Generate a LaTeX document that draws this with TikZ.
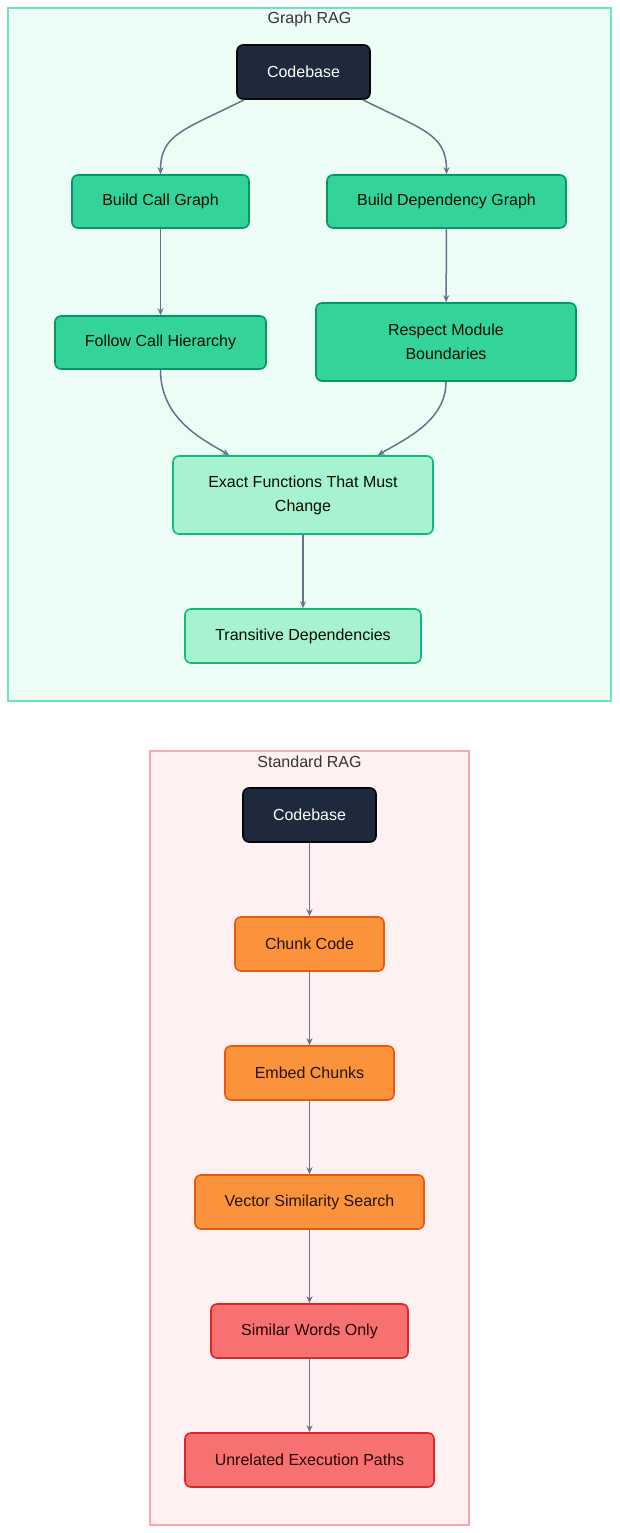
\documentclass[tikz,border=0pt]{standalone}
\usepackage{fontspec}
\setmainfont{Liberation Sans}
\usetikzlibrary{arrows.meta}
\definecolor{dk}{HTML}{1E293B}
\definecolor{gf}{HTML}{34D399}\definecolor{gb}{HTML}{059669}
\definecolor{lf}{HTML}{A7F3D0}\definecolor{lb}{HTML}{10B981}
\definecolor{of}{HTML}{FB923C}\definecolor{ob}{HTML}{EA580C}
\definecolor{rf}{HTML}{F87171}\definecolor{rb}{HTML}{DC2626}
\definecolor{g1}{HTML}{ECFDF5}\definecolor{g2}{HTML}{6EE7B7}
\definecolor{p1}{HTML}{FFF1F2}\definecolor{p2}{HTML}{FDA4AF}
\definecolor{ed}{HTML}{64748B}
\tikzset{
 box/.style={rounded corners=6pt,line width=1.6pt,align=center,font=\fontsize{16}{24}\selectfont,inner sep=0pt},
 dark/.style={box,fill=dk,draw=black!85!dk,text=white},
 grn/.style={box,fill=gf,draw=gb,text=black!85!green!40!black},
 lgt/.style={box,fill=lf,draw=lb,text=black!85!green!40!black},
 org/.style={box,fill=of,draw=ob,text=black!85!orange},
 red/.style={box,fill=rf,draw=rb,text=black!85!red},
 ar/.style={draw=ed,line width=1.5pt,-{Stealth[length=7pt,width=6pt]}},
 ttl/.style={font=\fontsize{16}{18}\selectfont,text=black!80}
}
\begin{document}
\begin{tikzpicture}[x=1pt,y=-1pt]
\useasboundingbox (0,0) rectangle (619,1533);
\draw[fill=g1,draw=g2,line width=1.5pt] (8,8) rectangle (611,701);
\node[ttl] (t1) at (309.5,19) {Graph RAG};
\draw[fill=p1,draw=p2,line width=1.5pt] (150,751) rectangle (469,1525);
\node[ttl] (t2) at (309.5,762) {Standard RAG};

\node[dark,minimum width=133pt,minimum height=54pt] (cb) at (303.5,72) {Codebase};
\node[grn,minimum width=177pt,minimum height=53pt] (bcg) at (160.5,201.5) {Build Call Graph};
\node[grn,minimum width=239pt,minimum height=53pt] (bdg) at (446.5,201.5) {Build Dependency Graph};
\node[grn,minimum width=211pt,minimum height=53pt] (fch) at (160.5,342.5) {Follow Call Hierarchy};
\node[grn,minimum width=260pt,minimum height=78pt] (rmb) at (446,342) {Respect Module\\Boundaries};
\node[lgt,minimum width=260pt,minimum height=78pt] (ef) at (303,495) {Exact Functions That Must\\Change};
\node[lgt,minimum width=236pt,minimum height=54pt] (td) at (303,636) {Transitive Dependencies};

\draw[ar] ([xshift=8pt]cb.south west) .. controls +(-60,30) and +(0,-40) .. (bcg.north);
\draw[ar] ([xshift=-8pt]cb.south east) .. controls +(60,30) and +(0,-40) .. (bdg.north);
\draw[ar] (bcg) -- (fch);
\draw[ar] (bdg) -- (rmb);
\draw[ar] (fch.south) .. controls +(0,50) and +(-25,-15) .. ([xshift=57pt]ef.north west);
\draw[ar] (rmb.south) .. controls +(0,40) and +(25,-15) .. ([xshift=-56pt]ef.north east);
\draw[ar] (ef) -- (td);

\node[dark,minimum width=133pt,minimum height=54pt] (cb2) at (309.5,815) {Codebase};
\node[org,minimum width=149pt,minimum height=54pt] (cc) at (309.5,944) {Chunk Code};
\node[org,minimum width=169pt,minimum height=54pt] (emb) at (309.5,1073) {Embed Chunks};
\node[org,minimum width=229pt,minimum height=54pt] (vss) at (309.5,1202) {Vector Similarity Search};
\node[red,minimum width=197pt,minimum height=54pt] (swo) at (309.5,1331) {Similar Words Only};
\node[red,minimum width=249pt,minimum height=54pt] (uep) at (309.5,1460) {Unrelated Execution Paths};
\draw[ar] (cb2) -- (cc);
\draw[ar] (cc) -- (emb);
\draw[ar] (emb) -- (vss);
\draw[ar] (vss) -- (swo);
\draw[ar] (swo) -- (uep);
\end{tikzpicture}
\end{document}
